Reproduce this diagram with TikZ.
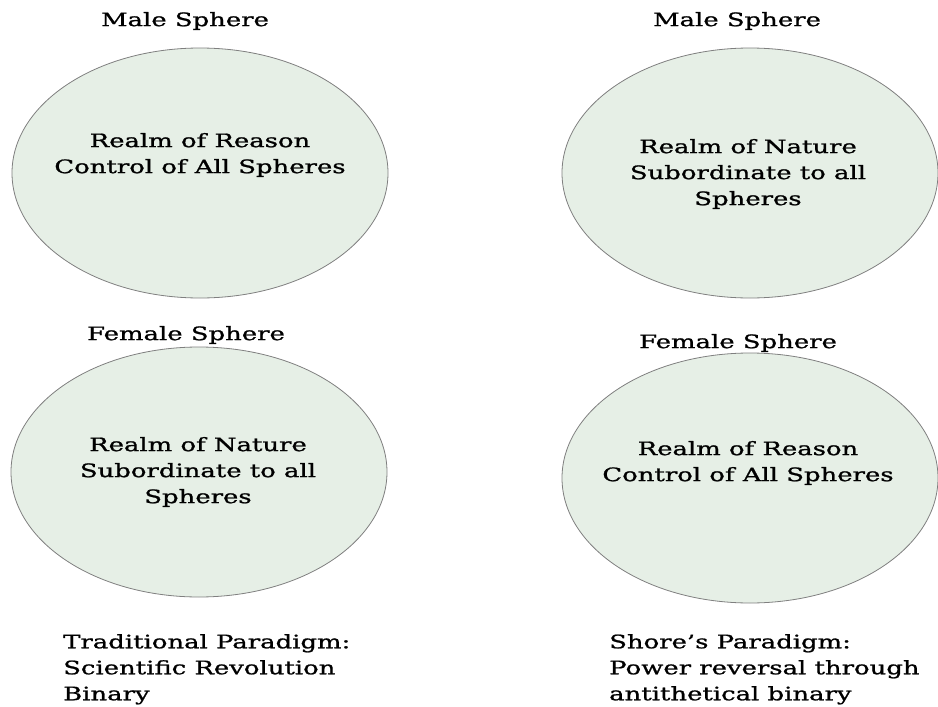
\documentclass[tikz,border=0pt]{standalone}
\usepackage{fontspec}
\setmainfont{DejaVu Serif}[FakeStretch=1.40,FakeBold=1.1]
\usetikzlibrary{shapes.geometric}
\definecolor{sphfill}{HTML}{E6EFE6}
\definecolor{sphline}{HTML}{7F7F7F}
\begin{document}
\begin{tikzpicture}[x=1pt,y=-1pt,
  sphere/.style={ellipse,draw=sphline,fill=sphfill,line width=0.8pt,minimum width=376pt,minimum height=250pt,inner sep=0pt},
  lbl/.style={font=\fontsize{18.5}{26}\selectfont,align=center,inner sep=0pt},
  captxt/.style={font=\fontsize{18.5}{26}\selectfont,align=left,anchor=north west,inner sep=0pt}]
\useasboundingbox (0,0) rectangle (938,707);
\node[sphere] (e1) at (200,173) {};
\node[sphere] (e2) at (750,173) {};
\node[sphere] (e3) at (199,472) {};
\node[sphere] (e4) at (750,478) {};
\node[lbl] (m1) at (185,21) {Male Sphere};
\node[lbl] (m2) at (737,21) {Male Sphere};
\node[lbl] (f1) at (186,335) {Female Sphere};
\node[lbl] (f2) at (738,343) {Female Sphere};
\node[lbl] (t1) at (200,155) {Realm of Reason\\Control of All Spheres};
\node[lbl] (t2) at (748,174) {Realm of Nature\\Subordinate to all\\Spheres};
\node[lbl] (t3) at (198,472) {Realm of Nature\\Subordinate to all\\Spheres};
\node[lbl] (t4) at (748,463) {Realm of Reason\\Control of All Spheres};
\node[captxt] (c1) at (63,634) {Traditional Paradigm:\\Scientific Revolution\\Binary};
\node[captxt] (c2) at (609,634) {Shore’s Paradigm:\\Power reversal through\\antithetical binary};
\end{tikzpicture}
\end{document}
